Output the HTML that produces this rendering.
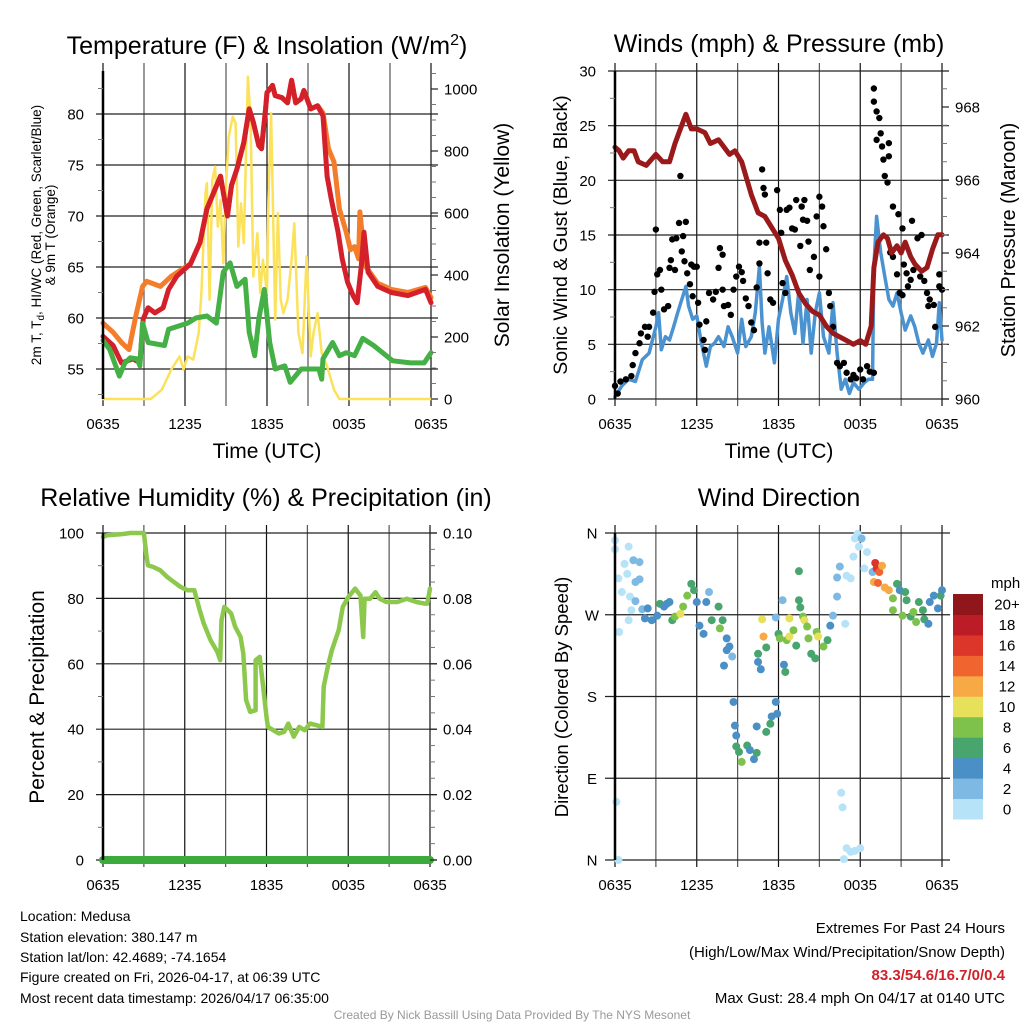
<!DOCTYPE html>
<html><head><meta charset="utf-8"><style>
html,body{margin:0;padding:0;background:#fff;}
svg{display:block;font-family:"Liberation Sans",Arial,sans-serif;}
</style></head><body>
<svg id="chart" width="1024" height="1024" viewBox="0 0 1024 1024" xmlns="http://www.w3.org/2000/svg">
<g id="layer-grid"></g>
<g id="layer-data"></g>
<g id="layer-axes"></g>
<g font-size="25" text-anchor="middle" fill="#000">
<text x="267" y="54">Temperature (F) &amp; Insolation (W/m<tspan dy="-9" font-size="16">2</tspan><tspan dy="9">)</tspan></text>
<text x="779" y="52">Winds (mph) &amp; Pressure (mb)</text>
<text x="266" y="506">Relative Humidity (%) &amp; Precipitation (in)</text>
<text x="779" y="506">Wind Direction</text>
</g>
<g text-anchor="middle" fill="#000">
<text x="267" y="458" font-size="21">Time (UTC)</text>
<text x="779" y="458" font-size="21">Time (UTC)</text>
<text transform="translate(41,235) rotate(-90)" font-size="13.5">2m T, T<tspan dy="3" font-size="10">d</tspan><tspan dy="-3">, HI/WC (Red, Green, Scarlet/Blue)</tspan></text>
<text transform="translate(55,235) rotate(-90)" font-size="13.5">&amp; 9m T (Orange)</text>
<text transform="translate(509,235) rotate(-90)" font-size="21">Solar Insolation (Yellow)</text>
<text transform="translate(567,235) rotate(-90)" font-size="19.5">Sonic Wind &amp; Gust (Blue, Black)</text>
<text transform="translate(1015,240) rotate(-90)" font-size="20">Station Pressure (Maroon)</text>
<text transform="translate(44,697) rotate(-90)" font-size="21">Percent &amp; Precipitation</text>
<text transform="translate(568,697) rotate(-90)" font-size="18.5">Direction (Colored By Speed)</text>
</g>
<g font-size="14" fill="#000">
<text x="20" y="921">Location: Medusa</text>
<text x="20" y="942">Station elevation: 380.147 m</text>
<text x="20" y="962">Station lat/lon: 42.4689; -74.1654</text>
<text x="20" y="982">Figure created on Fri, 2026-04-17, at 06:39 UTC</text>
<text x="20" y="1003">Most recent data timestamp: 2026/04/17 06:35:00</text>
</g>
<g font-size="15" fill="#000" text-anchor="end">
<text x="1005" y="933">Extremes For Past 24 Hours</text>
<text x="1005" y="957">(High/Low/Max Wind/Precipitation/Snow Depth)</text>
<text x="1005" y="980" fill="#d0222a" font-weight="bold">83.3/54.6/16.7/0/0.4</text>
<text x="1005" y="1003">Max Gust: 28.4 mph On 04/17 at 0140 UTC</text>
</g>
<text x="512" y="1019" font-size="12" fill="#999" text-anchor="middle">Created By Nick Bassill Using Data Provided By The NYS Mesonet</text>
</svg>
<script>
const xTickLabels = ["0635","1235","1835","0035","0635"];
// Temperature panel
const tRedH = [0,0.74,1.35,2.2,2.7,2.94,3.3,3.8,4.4,4.8,5.4,6.4,7.1,7.6,8.1,8.6,9.1,9.4,9.8,10.3,10.7,11,11.4,11.6,11.9,12,12.4,12.6,13.1,13.5,13.8,14.1,14.5,14.7,15.2,15.7,16.1,16.4,16.7,17.2,17.5,17.9,18.3,18.6,18.9,19.1,19.4,20.1,21.1,22.3,23.6,24];
const tRed = [58.2,57.3,55.6,56,55.6,59.9,61,60.5,61,62.8,64.1,65.3,67.4,70.7,72.3,73.9,70,73,74.6,77.2,80.5,79.2,76.9,76.6,80.5,82.1,82.8,81.8,81.6,81.1,83.3,81.1,81.5,82.3,80.5,80.8,79.8,73.9,71.7,68.4,65.8,63.5,62.2,61.5,65.1,68.4,64.5,63.1,62.5,62.2,62.8,61.5];
const tOrgH = [0,0.74,1.35,1.9,2.4,2.9,3.2,4.2,5,6.4,7.1,7.6,8.1,8.6,9.1,9.4,9.8,10.3,10.7,11,11.4,11.6,11.9,12,12.4,12.6,13.1,13.5,13.8,14.1,14.5,14.7,15.2,15.7,16.1,16.5,16.9,17.3,17.8,18.1,18.4,18.7,18.8,19.2,20.1,21.1,22.3,23.6,24];
const tOrg = [59.5,58.6,57.6,56.9,60.2,63.1,63.6,63.1,64.1,65.3,67.4,70.7,72.3,73.9,70,73,74.6,77.2,80.5,79.2,76.9,76.6,80.5,82.1,82.8,81.8,81.6,81.1,83.3,81.1,81.5,82.3,80.5,80.8,80.1,76.6,75.3,70.7,68.4,66.7,67,65.8,70.4,65.1,63.4,62.8,62.5,63,62];
const tDewH = [0,0.5,1.2,1.6,2,2.5,2.7,2.9,3.3,4.5,4.8,6.2,6.8,7.6,8.3,8.8,9.3,9.8,10.4,10.7,11.1,11.4,11.8,12.2,12.6,13.3,13.7,14.5,15,15.8,16,16.1,16.8,17.3,17.8,18.4,19,19.8,21.2,22.5,23.5,24];
const tDew = [57.8,56.9,54.3,55.6,56.1,56,55.3,59.5,57.6,57.3,58.9,59.5,60,60.2,59.5,64.5,65.4,63.1,63.8,58.6,56.3,59.9,62.8,57.6,55,55.3,53.7,55,55,55,54,56,57.6,56.3,56.6,56.3,58,57.3,55.8,55.6,55.6,56.6];
const solH = [0,3.4,3.5,4.3,5,5.6,5.9,6.2,6.6,7,7.2,7.5,7.6,7.8,8,8.2,8.4,8.6,8.8,9,9.2,9.5,9.7,9.9,10.1,10.3,10.6,10.8,11,11.3,11.5,11.7,12,12.1,12.3,12.6,12.8,13,13.2,13.5,13.8,14,14.3,14.6,14.9,15.2,15.4,15.7,16,16.4,16.9,17.3,24];
const sol = [0,0,0,30,95,137,95,137,127,213,342,664,696,320,707,750,556,642,438,685,846,911,889,492,631,503,1040,900,395,535,342,449,342,642,922,256,600,320,277,320,449,567,213,148,460,137,213,277,148,105,30,0,0];
// Wind panel
const presH = [0,0.3,0.6,1,1.4,1.7,2.3,3,3.5,4,4.4,4.8,5.2,5.6,6,6.6,7,7.6,8.4,8.8,9.3,10,10.5,11,11.5,12,12.5,13,13.5,14,14.5,15,15.5,16,16.5,17,17.5,18,18.4,18.8,19,19.3,19.7,20,20.3,20.7,21,21.3,21.7,22,22.5,22.9,23.3,23.7,24];
const pres = [966.9,966.8,966.6,966.8,966.8,966.5,966.4,966.7,966.5,966.5,967,967.4,967.8,967.4,967.4,967.3,967,967.1,966.7,966.8,966.5,965.6,965.1,965,964.7,964.4,963.8,963.4,962.9,962.6,962.4,962.3,962,961.8,961.7,961.6,961.5,961.6,961.5,962,963.6,964.3,964.5,964.4,964,964.2,964,964.3,963.9,963.7,963.5,963.6,964.1,964.5,964.5];
const windH = [0,0.5,1,1.5,2,2.5,3,3.2,3.4,3.7,4,4.3,4.6,4.9,5.2,5.4,5.7,6,6.3,6.7,7,7.3,7.6,8,8.3,8.6,9,9.3,9.6,10,10.3,10.6,10.8,11,11.3,11.7,12,12.3,12.6,12.9,13.2,13.5,13.8,14.1,14.4,14.7,15,15.3,15.7,16,16.3,16.6,16.9,17.2,17.5,17.9,18.3,18.6,18.9,19,19.2,19.5,19.8,20.1,20.4,20.7,21,21.3,21.7,22,22.3,22.6,23,23.3,23.6,23.8,24];
const wind = [0.2,1.2,1.8,1.6,3.6,4.2,6.6,7.9,4.5,5.7,5.4,6.6,7.9,9.1,10.3,8.5,7.3,7.6,5.4,3,4.8,5.1,5.7,4.8,6.6,5.7,4.2,7.3,4.8,5.7,7.9,12.1,7,4.2,6.6,3.3,7.3,9.1,11.2,7.9,6,10,5.1,9.1,4.2,7.9,9.7,5.7,4.2,8.8,4.2,0.9,1.8,0.5,1.5,0.9,1.5,1.8,1.8,12.1,16.7,13.4,11.2,9.1,8.5,9.7,7.9,6.3,7.6,6.6,5.1,4.2,5.4,3.9,5.1,8.8,5.4];
const gustH = [0,0.2,0.4,0.8,1.2,1.3,1.5,1.8,1.9,2.2,2.5,2.4,2.8,2.9,3.1,3,3.3,3.4,3.6,3.9,4,4.1,4.4,4.2,4.5,4.7,4.8,4.9,5,5.2,5.1,5.3,5.5,5.6,5.8,6,5.7,6.1,6.2,6.5,6.6,6.7,6.9,7.2,7.4,7.6,7.7,7.9,7.9,8,8.3,8.5,8.7,8.9,9.1,9.3,9.4,9.6,9.8,10,10.2,10.4,10.6,10.6,10.8,10.9,11,11.1,11.2,11.4,11.6,11.9,12.1,12.2,12.3,12.5,12.6,12.8,13,13.2,13.3,13.6,13.7,13.8,14.1,13.9,14.2,14.3,14.6,14.8,15,15.2,15.3,15.5,15,15.7,15.8,16,16.3,16.5,16.8,17,17.3,17.5,17.7,18,18.2,18.5,18.7,19,19,19,19.2,19.4,19.2,19.5,19.6,19.7,20.1,20.1,19.8,20,20.4,20.8,21.1,21.2,21.8,22.2,22.5,21.4,21.7,21.9,20.9,21.1,21.5,22.4,22.7,22.9,23.1,23,23.4,23.5,23.8,23.8,24,20.7,20.2,20.4];
const gust = [1.2,0.5,1.6,1.8,2.1,3.1,4.2,5.1,6,6.6,6.6,5.7,7.9,9.8,11.4,15.5,11.8,10,8.2,8.5,12,12.7,11.8,14.6,14.7,16.1,20.4,13.5,14.9,16.2,12.6,11.5,10.5,12.3,12.1,12.1,9.4,8.8,6.8,5.4,4.5,7.1,9.7,9.1,9.8,12,13.8,13.2,10,8.5,8.6,7.7,10,11.2,12.1,11.6,10.8,9.2,8.5,7,6.3,10.2,12.4,14.3,21,19.3,18.7,14.3,11.5,9.1,8.8,19.1,17.3,15.2,10.6,9.7,17.3,17.5,15.6,15.5,18.2,14,17.6,16.4,16.3,18.2,14.4,11.8,13,16.7,18.5,17.6,15.8,13.7,11.2,9.7,8.5,6.6,3.3,3,3.3,2.4,1.8,2.2,1.9,2.7,1.8,3,2.5,2.4,28.4,27.2,26.3,25.7,23.7,24.3,23.1,21.9,23.4,22.2,20.4,19.8,17.6,16.9,15.6,12.3,16.3,14.7,15,11.5,10.9,11.8,9.7,9.5,10.3,11.2,10.8,9.7,9.1,8.5,8.6,6.6,11.4,10.3,10,11.4,13.4,13];
// RH panel
const rhH = [0,0.3,1.3,2,3,3.2,3.3,3.7,4.2,4.7,5.2,5.7,6.2,6.7,7.1,7.4,7.9,8.4,8.6,8.7,8.9,9.4,9.7,10.1,10.3,10.5,10.8,11.2,11.2,11.5,11.7,12,12.1,12.5,12.9,13.3,13.6,14,14.4,14.8,15.2,15.7,16.1,16.2,16.5,16.8,17.3,17.6,18,18.5,18.9,19.1,19.2,19.6,20,20.3,20.8,21.6,22.3,23,23.6,23.8,24];
const rh = [98.8,99.3,99.6,100,100,92.7,90.1,89.6,88.6,86.6,85,83.5,82.5,82.5,76.4,72.3,67.2,63.6,61.1,73.3,77.4,75.4,71.3,68.2,63.1,48.9,45.3,45.8,61.1,62.1,55,43.8,40.7,39.7,38.7,39.2,41.7,37.7,40.7,39.7,41.7,41.2,40.7,53,59.1,64.2,70.3,77.4,80.4,83,80.9,68.2,79.9,79.9,81.9,79.9,78.9,78.9,79.9,78.9,78.4,78.4,83];
const precipH = [0,24];
const precip = [0,0];
// Wind direction panel
const dirH = [0,0,0.25,0.7,1,0.5,0.9,1.1,1.2,1,0.3,1.35,1.8,1.5,1.8,1.5,2,2.2,2.4,2.7,3.1,3.3,3.6,3.8,4,4.2,4.4,4.8,5,5.3,5.6,5.8,6,6.2,6.5,6.9,6.7,7.1,7.6,7.9,7.7,8.2,8.4,8.2,8.6,8,8.7,8.8,8.9,8.9,9.1,9.3,9.7,9.9,10.2,10.4,10.4,11.1,11.4,11.5,11.8,11.9,10.5,10.7,10.5,11.1,10.8,10.9,11.8,12,12.1,12.3,12.4,12.5,12.6,12.8,12.8,13.1,13.3,13.5,13.5,13.6,13.8,13.9,14.1,14.2,14.4,14.7,14.8,14.9,15.3,15.6,15.8,16,16.3,16.5,16.3,17,17.3,16.9,17.5,17.8,17.6,18.1,17.9,18.5,18.3,18.9,19.1,19.2,19.4,19.6,19,19.3,19.8,20.1,20.4,20.7,20.9,21.3,21.4,20.4,21.1,21.7,21.9,22.3,22.6,22.1,22.7,23,23.1,23.4,23.7,23.9,24,0.1,0.25,16.6,16.7,17,17.3,17.6,18,16.8];
const dirDeg = [352,342,310,326,345,295,315,290,275,264,251,330,328,306,309,285,276,266,277,264,269,282,279,282,284,264,268,271,279,291,304,297,284,258,249,295,284,264,279,264,255,244,235,231,224,214,174,148,137,125,119,108,126,121,111,118,147,141,150,158,174,161,218,210,227,234,265,246,267,249,244,286,215,207,242,266,246,253,236,318,286,278,268,264,257,244,227,222,251,246,235,242,258,269,290,323,311,313,310,260,334,359,354,354,345,339,321,317,327,321,317,324,306,305,300,297,288,304,297,295,286,275,269,268,273,284,275,262,265,260,284,291,277,291,297,64,0,74,58,13,9,10,13,1];
const dirSpd = [1,1,1,1,1,1,1,1,1,1,1,3,3,3,3,3,3,5,5,5,5,7,5,5,5,7,9,11,9,9,7,7,5,5,5,3,5,7,7,7,9,5,5,5,3,5,5,5,5,7,7,9,7,5,5,7,5,7,7,5,5,5,5,5,7,7,11,13,3,7,9,3,5,7,9,11,11,9,7,7,7,7,9,11,9,9,7,7,9,11,9,7,5,3,3,3,3,1,1,1,1,1,1,3,1,1,1,3,17,17,15,13,13,15,13,13,9,7,5,7,7,9,9,7,9,7,7,9,7,5,5,5,5,7,5,1,1,1,1,1,1,1,1,1];
const speedBins = [0,2,4,6,8,10,12,14,16,18,20];
const speedLabels = ["0","2","4","6","8","10","12","14","16","18","20+"];
const speedColors = ["#b7e3f8","#7db9e3","#4a8fc5","#48a56e","#7ec24b","#e6e05a","#f7a945","#f06430","#dc3529","#bc1c26","#8f161b"];
const dirLabels = ["N","W","S","E","N"];
const dirTicks = [360,270,180,90,0];

const NS="http://www.w3.org/2000/svg";
const gGrid=document.getElementById('layer-grid');
const gData=document.getElementById('layer-data');
const gAxes=document.getElementById('layer-axes');
function mk(tag,attrs,parent){const e=document.createElementNS(NS,tag);for(const k in attrs)e.setAttribute(k,attrs[k]);parent.appendChild(e);return e;}
function lin(d0,d1,r0,r1){return v=>r0+(v-d0)*(r1-r0)/(d1-d0);}

const P1={x0:103,x1:431,y0:71,y1:399};
const P2={x0:615,x1:942,y0:71,y1:399};
const P3={x0:103,x1:430,y0:533,y1:860};
const P4={x0:615,x1:942,y0:533,y1:860};
const TF=15;

function frame(P,name,xs){
  for(let h=0;h<=24;h+=3){
    const x=xs(h);
    const l=mk('line',{x1:x,x2:x,y1:P.y0-8,y2:P.y1+7,stroke:(h%6===0)?'#111':'#555','stroke-width':1.2},gGrid);
    
    
  }
  xTickLabels.forEach((lab,i)=>{
    const t=mk('text',{x:xs(i*6),y:P.y1+30,'font-size':TF,'text-anchor':'middle'},gAxes);
    t.textContent=lab;
    
    
  });
  const ax=mk('line',{x1:P.x0,x2:P.x0,y1:P.y0,y2:P.y1,stroke:'#000','stroke-width':2.5},gAxes);
  
  
}
function yAxis(P,name,ys,side,majors,minors,labels,drawGrid){
  const x=side==='left'?P.x0:P.x1;
  const dir=side==='left'?-1:1;
  majors.forEach((v,i)=>{
    const y=ys(v);
    if(drawGrid){
      const g=mk('line',{x1:P.x0-7,x2:P.x1+7,y1:y,y2:y,stroke:'#222','stroke-width':1.2},gGrid);
      
      
    } else {
      const tk=mk('line',{x1:x,x2:x+dir*7,y1:y,y2:y,stroke:'#222','stroke-width':1.2},gAxes);
      
      
    }
    const t=mk('text',{x:x+dir*(side==='left'?19:13),y:y+5.5,'font-size':TF,'text-anchor':side==='left'?'end':'start'},gAxes);
    t.textContent=labels[i];
    
    
  });
  minors.forEach(v=>{
    const y=ys(v);
    const tk=mk('line',{x1:x,x2:x+dir*5,y1:y,y2:y,stroke:'#777','stroke-width':1},gAxes);
    
    
  });
}
function range(a,b,s){const r=[];for(let v=a;v<=b+1e-9;v+=s)r.push(+v.toFixed(4));return r;}
function line(xa,ya,xs,ys,color,w,name,P){
  const pts=xa.map((h,i)=>xs(h).toFixed(1)+','+Math.max(P.y0,Math.min(P.y1,ys(ya[i]))).toFixed(1)).join(' ');
  const p=mk('polyline',{points:pts,fill:'none',stroke:color,'stroke-width':w,'stroke-linejoin':'round','stroke-linecap':'round'},gData);
  
  
}

// Panel 1
const x1s=lin(0,24,P1.x0,P1.x1);
const tY=lin(55,80,369,114);
const sY=lin(0,1000,399,89);
frame(P1,'temp',x1s);
yAxis(P1,'temp-y',tY,'left',[55,60,65,70,75,80],range(52.5,82.5,5),["55","60","65","70","75","80"],true);
yAxis(P1,'insolation-y',sY,'right',[0,200,400,600,800,1000],range(50,1050,50).filter(v=>v%200!==0),["0","200","400","600","800","1000"],false);
line(solH,sol,x1s,sY,'#fbe25a',2.5,'insolation-line',P1);
line(tOrgH,tOrg,x1s,tY,'#f47d2c',5,'temp-9m-line',P1);
line(tRedH,tRed,x1s,tY,'#d4202a',5,'temp-2m-line',P1);
line(tDewH,tDew,x1s,tY,'#45b045',5,'dewpoint-line',P1);

// Panel 2
const x2s=lin(0,24,P2.x0,P2.x1);
const wY=lin(0,30,399,71);
const pY=lin(960,968,399,107);
frame(P2,'wind',x2s);
yAxis(P2,'wind-y',wY,'left',[0,5,10,15,20,25,30],range(2.5,27.5,5),["0","5","10","15","20","25","30"],true);
yAxis(P2,'pressure-y',pY,'right',[960,962,964,966,968],range(960.5,968.5,0.5).filter(v=>v%2!==0),["960","962","964","966","968"],false);
line(windH,wind,x2s,wY,'#4b93d0',3.5,'sonic-wind-line',P2);
gustH.forEach((h,i)=>{
  const c=mk('circle',{cx:x2s(h),cy:wY(gust[i]),r:3.2,fill:'#000'},gData);
  
  
});
line(presH,pres,x2s,pY,'#9a1a1c',5,'pressure-line',P2);

// Panel 3
const x3s=lin(0,24,P3.x0,P3.x1);
const rY=lin(0,100,860,533);
const prY=lin(0,0.1,860,533);
frame(P3,'rh',x3s);
yAxis(P3,'rh-y',rY,'left',[0,20,40,60,80,100],range(10,90,20),["0","20","40","60","80","100"],true);
yAxis(P3,'precip-y',prY,'right',[0,0.02,0.04,0.06,0.08,0.1],range(0.005,0.095,0.005).filter(v=>Math.round(v*1000)%20!==0),["0.00","0.02","0.04","0.06","0.08","0.10"],false);
line(rhH,rh,x3s,rY,'#8cc84b',4.5,'rh-line',P3);
{
  const pts=precipH.map((h,i)=>x3s(h).toFixed(1)+','+prY(precip[i]).toFixed(1)).join(' ');
  const p=mk('polyline',{points:pts,fill:'none',stroke:'#3daa3d','stroke-width':8,'stroke-linecap':'round'},gData);
  
  
}

// Panel 4
const x4s=lin(0,24,P4.x0,P4.x1);
const dY=lin(0,360,860,533);
frame(P4,'dir',x4s);
dirTicks.forEach((v,i)=>{
  const y=dY(v);
  const g=mk('line',{x1:P4.x0-10,x2:P4.x1+8,y1:y,y2:y,stroke:'#222','stroke-width':1.2},gGrid);
  
  
  const t=mk('text',{x:P4.x0-23,y:y+5.5,'font-size':TF,'text-anchor':'middle'},gAxes);
  t.textContent=dirLabels[i];
  
  
});
function spdColor(s){let k=0;for(let i=0;i<speedBins.length;i++)if(s>=speedBins[i])k=i;return speedColors[k];}
dirH.forEach((h,i)=>{
  const c=mk('circle',{cx:x4s(h),cy:dY(dirDeg[i]),r:4,fill:spdColor(dirSpd[i])},gData);
  
  
});
const cb=mk('g',{},gAxes);


const cbTop=594,cbBot=819,cbH=(cbBot-cbTop)/speedColors.length;
speedColors.forEach((col,i)=>{
  const y=cbBot-(i+1)*cbH;
  const r=mk('rect',{x:953,y:y,width:30,height:cbH+0.5,fill:col},cb);
  
  
  const t=mk('text',{x:1007,y:y+cbH/2+5.5,'font-size':15,'text-anchor':'middle'},cb);
  t.textContent=speedLabels[i];
  
  
});
{
  const t=mk('text',{x:991,y:588,'font-size':15},cb);
  t.textContent='mph';
  
  
}
</script>
</body></html>
